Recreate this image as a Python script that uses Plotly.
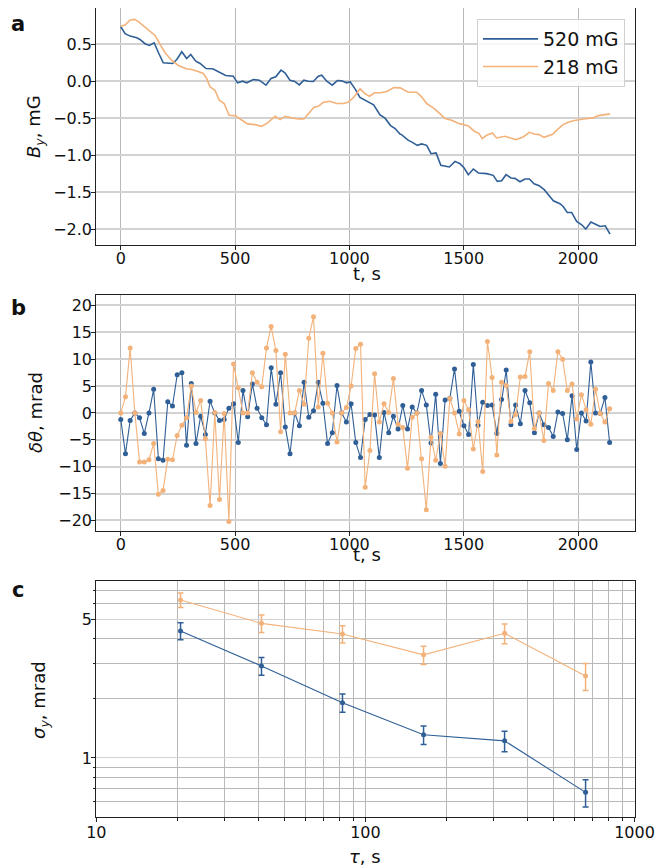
import numpy as np
import plotly.graph_objects as go

W, H = 672, 868
OFF = 8  # the page body margin shifts the figure by this many pixels

# ---------------- data: panel a ----------------
t_a_520 = [0, 19, 41, 70, 84, 106, 125, 146, 165, 186, 227, 245, 267, 288, 306, 328, 347, 373, 402, 431,
           459, 492, 511, 533, 551, 580, 606, 635, 657, 678, 701, 718, 740, 759, 781, 801, 820, 842, 864, 879,
           901, 925, 947, 966, 988, 1003, 1024, 1046, 1072, 1106, 1134, 1156, 1180, 1200, 1221, 1228, 1258,
           1272, 1297, 1316, 1338, 1357, 1379, 1400, 1437, 1462, 1484, 1502, 1520, 1542, 1564, 1600, 1629,
           1647, 1666, 1685, 1707, 1724, 1746, 1768, 1787, 1808, 1830, 1852, 1874, 1892, 1921, 1935, 1953,
           1972, 1994, 2016, 2034, 2056, 2081, 2096, 2119, 2140]
b_a_520 = [0.737, 0.642, 0.61, 0.588, 0.565, 0.507, 0.484, 0.52, 0.385, 0.249, 0.24, 0.294, 0.398, 0.307,
           0.362, 0.271, 0.24, 0.172, 0.168, 0.122, 0.077, 0.068, -0.022, 0.0, -0.022, 0.023, 0.014, -0.054,
           0.037, 0.06, 0.149, 0.114, 0.014, 0.0, -0.049, 0.014, 0.0, -0.004, 0.068, 0.081, 0.0, -0.054, 0.009,
           0.005, -0.022, -0.008, -0.10, -0.22, -0.265, -0.32, -0.455, -0.50, -0.60, -0.64, -0.715, -0.722,
           -0.80, -0.82, -0.867, -0.848, -0.867, -0.98, -0.97, -1.138, -1.16, -1.084, -1.115, -1.174, -1.264,
           -1.187, -1.241, -1.25, -1.273, -1.355, -1.345, -1.264, -1.309, -1.314, -1.359, -1.323, -1.323,
           -1.386, -1.413, -1.467, -1.549, -1.617, -1.657, -1.694, -1.775, -1.775, -1.897, -1.942, -2.0,
           -1.905, -1.942, -1.965, -1.955, -2.068]

t_a_218 = [0, 19, 41, 60, 77, 106, 135, 150, 172, 194, 223, 252, 286, 310, 335, 361, 376, 390, 412, 431, 452,
           474, 500, 522, 554, 587, 616, 645, 675, 697, 718, 748, 777, 801, 825, 845, 864, 886, 915, 944, 973,
           995, 1020, 1047, 1068, 1088, 1110, 1138, 1166, 1194, 1222, 1258, 1294, 1316, 1338, 1367, 1396, 1418,
           1447, 1476, 1500, 1520, 1545, 1567, 1581, 1600, 1625, 1644, 1680, 1702, 1728, 1760, 1787, 1808,
           1830, 1851, 1870, 1889, 1913, 1935, 1957, 1979, 2023, 2066, 2088, 2110, 2140]
b_a_218 = [0.745, 0.759, 0.827, 0.836, 0.805, 0.732, 0.669, 0.619, 0.497, 0.385, 0.28, 0.213, 0.168, 0.159,
           0.136, 0.104, 0.037, -0.076, -0.122, -0.257, -0.302, -0.46, -0.465, -0.51, -0.577, -0.587, -0.61,
           -0.556, -0.474, -0.519, -0.474, -0.496, -0.51, -0.51, -0.428, -0.352, -0.339, -0.285, -0.271,
           -0.302, -0.302, -0.285, -0.214, -0.103, -0.169, -0.203, -0.157, -0.157, -0.135, -0.087, -0.09,
           -0.149, -0.149, -0.212, -0.302, -0.36, -0.438, -0.505, -0.528, -0.568, -0.587, -0.605, -0.673,
           -0.709, -0.776, -0.731, -0.70, -0.767, -0.745, -0.767, -0.79, -0.754, -0.691, -0.713, -0.722,
           -0.759, -0.736, -0.718, -0.645, -0.587, -0.556, -0.535, -0.51, -0.496, -0.465, -0.451, -0.442]

# ---------------- data: panel b ----------------
dt_b = 20.56
t_b = [round(i * dt_b, 1) for i in range(105)]
d_520 = [-1.2, -7.6, -1.4, 0, -0.9, -3.8, 0, 4.4, -8.5, -8.8, 2.1, 1.3, 7.1, 7.5, -6.0, 5.5, -5.7, -0.6, -4.0,
         2.2, 0, -1.4, -1.2, 0.9, 1.7, -5.5, 4.2, -0.7, 5.4, 0.9, -0.9, -2.2, 8.4, 1.6, 7.5, -2.6, -7.6, 0,
         -2.4, 5.7, -0.8, 0.4, 5.7, 1.8, -5.7, -3.7, 5.1, 0, -1.7, 1.7, -5.5, -8.3, -1.2, -0.3, -0.4, -8.3,
         0.1, -3.7, -0.6, -3.0, 1.4, -3.0, 1.1, 0, 4.2, 1.5, -5.6, 3.5, -9.4, 2.4, 2.7, 8.2, 0.3, -2.4, -4.0,
         9.0, -2.3, 2.0, 1.4, 1.5, -3.8, 2.5, 8.0, -2.2, 1.5, -2.0, 4.2, 1.9, -3.7, 0, -2.2, -2.7, -4.4, 0.2,
         -0.1, -5.0, 3.2, -6.8, 0, -1.5, 9.5, 0, -0.1, 2.9, -5.5]
d_218 = [0, 3.0, 12.1, 0, -9.1, -9.1, -8.7, -5.7, -15.1, -14.4, -8.6, -8.7, -4.2, -2.3, -0.9, 5.0, 0.1, 2.3,
         -4.8, -17.2, 0.1, -16.1, -0.1, -20.2, 9.1, 4.7, 0, 0, 7.5, 5.7, 4.9, 12.1, 16.1, 11.6, -3.5, 10.9, 0,
         0, 4.2, 1.6, 13.9, 17.9, 1.1, 11.1, 1.8, 0, -5.4, 0, 1.0, 5.0, 12.0, 12.8, -13.8, -7.0, 7.3, -1.7,
         1.7, 0.1, 6.4, -2.1, -2.7, -10.3, -0.8, 0, -8.5, -18.0, -4.5, -8.8, -3.8, -9.9, 2.7, 0, -3.9, 2.3,
         0.6, -6.7, -1.6, -10.9, 13.3, 6.6, -7.8, 5.7, 5.1, -1.6, -0.3, 6.7, 6.8, 11.4, -2.9, 0, -5.1, 5.5,
         4.2, 11.4, 10.0, 4.2, 5.4, -1.1, 3.4, 0.6, -2.1, 4.4, -0.1, -1.7, 0.8]

# ---------------- data: panel c ----------------
tau = [20.56, 41.1, 82.2, 164.5, 329.0, 658.0]
sig_520 = [4.37, 2.91, 1.90, 1.31, 1.22, 0.671]
err_520 = [0.43, 0.30, 0.20, 0.14, 0.145, 0.105]
sig_218 = [6.26, 4.77, 4.22, 3.31, 4.25, 2.59]
err_218 = [0.52, 0.48, 0.42, 0.35, 0.49, 0.40]

labels = ["520 mG", "218 mG"]
ticks_t = [0, 500, 1000, 1500, 2000]

# ---------------- style ----------------
BLUE = "#2f5f96"
ORANGE = "#f3b27a"
FONT = "DejaVu Sans"
GRID_X = "#b8b8b8"
GRID_Y = "#d2d2d2"


def px_x(p):
    return (p - OFF) / W


def px_y(p):
    return 1 - (p - OFF) / H


XD = [px_x(96.3), px_x(634.5)]
DOM_A = [px_y(245), px_y(8)]
DOM_B = [px_y(530.7), px_y(294.7)]
DOM_C = [px_y(817), px_y(581)]

fig = go.Figure()

# panel a
fig.add_trace(go.Scatter(x=t_a_520, y=b_a_520, mode="lines", name=labels[0],
                         line=dict(color=BLUE, width=1.6), xaxis="x", yaxis="y"))
fig.add_trace(go.Scatter(x=t_a_218, y=b_a_218, mode="lines", name=labels[1],
                         line=dict(color=ORANGE, width=1.6), xaxis="x", yaxis="y"))

# panel b
fig.add_trace(go.Scatter(x=t_b, y=d_520, mode="lines+markers", showlegend=False,
                         line=dict(color=BLUE, width=1.1), marker=dict(color=BLUE, size=5),
                         xaxis="x2", yaxis="y2"))
fig.add_trace(go.Scatter(x=t_b, y=d_218, mode="lines+markers", showlegend=False,
                         line=dict(color=ORANGE, width=1.1), marker=dict(color=ORANGE, size=5),
                         xaxis="x2", yaxis="y2"))

# panel c
fig.add_trace(go.Scatter(x=tau, y=sig_520, mode="lines+markers", showlegend=False,
                         line=dict(color=BLUE, width=1.1), marker=dict(color=BLUE, size=5),
                         error_y=dict(type="data", array=err_520, color=BLUE, thickness=1.5, width=3),
                         xaxis="x3", yaxis="y3"))
fig.add_trace(go.Scatter(x=tau, y=sig_218, mode="lines+markers", showlegend=False,
                         line=dict(color=ORANGE, width=1.1), marker=dict(color=ORANGE, size=5),
                         error_y=dict(type="data", array=err_218, color=ORANGE, thickness=1.5, width=3),
                         xaxis="x3", yaxis="y3"))

common = dict(showline=True, linecolor="#222222", linewidth=1.2, mirror=True, ticks="outside",
              ticklen=4, tickwidth=1, tickcolor="#222222", zeroline=False, automargin=False,
              tickfont=dict(family=FONT, size=16, color="#111111"))
xcommon = dict(common, ticklabelstandoff=-5)
ycommon = dict(common, ticklabelstandoff=-4)

fig.update_layout(
    template="none",
    width=W, height=H, margin=dict(l=0, r=0, t=0, b=0, pad=0, autoexpand=False),
    paper_bgcolor="white", plot_bgcolor="white",
    font=dict(family=FONT, color="#111111"),
    xaxis=dict(domain=XD, anchor="y", range=[-107, 2247], tickvals=ticks_t,
               showgrid=True, gridcolor=GRID_X, gridwidth=1.2, **xcommon),
    yaxis=dict(domain=DOM_A, anchor="x", range=[-2.215, 0.99], dtick=0.5, tick0=0, tickformat=".1f",
               showgrid=True, gridcolor=GRID_Y, gridwidth=1.6, **ycommon),
    xaxis2=dict(domain=XD, anchor="y2", range=[-107, 2247], tickvals=ticks_t,
                showgrid=True, gridcolor=GRID_X, gridwidth=1.2, **xcommon),
    yaxis2=dict(domain=DOM_B, anchor="x2", range=[-21.9, 22.0], dtick=5, tick0=0,
                showgrid=True, gridcolor=GRID_Y, gridwidth=1.6, **ycommon),
    xaxis3=dict(domain=XD, anchor="y3", type="log", range=[1, 3], tickvals=[10, 100, 1000],
                ticktext=["10", "100", "1000"], showgrid=True, gridcolor=GRID_X, gridwidth=1.2,
                minor=dict(tickvals=[20, 30, 40, 50, 60, 70, 80, 90, 200, 300, 400, 500, 600, 700, 800, 900],
                           showgrid=True, gridcolor=GRID_X, gridwidth=1, ticks="outside", ticklen=2.5,
                           tickcolor="#222222"),
                **dict(common, ticklabelstandoff=-3)),
    yaxis3=dict(domain=DOM_C, anchor="x3", type="log", range=[np.log10(0.504), np.log10(7.8)],
                tickvals=[1, 5], ticktext=["1", "5"], showgrid=True, gridcolor=GRID_Y, gridwidth=1.4,
                minor=dict(tickvals=[0.6, 0.7, 0.8, 0.9, 2, 3, 4, 6, 7], showgrid=True,
                           gridcolor=GRID_X, gridwidth=1, ticks="outside", ticklen=2.5, tickcolor="#222222"),
                **ycommon),
    legend=dict(x=px_x(625), y=px_y(19), xanchor="right", yanchor="top",
                bgcolor="rgba(255,255,255,0.85)", bordercolor="#d0d0d0", borderwidth=1,
                font=dict(family=FONT, size=19, color="#111111"), tracegroupgap=4,
                itemwidth=55),
)

ann = []
for lab, py in [("a", 24), ("b", 308), ("c", 590)]:
    ann.append(dict(text="<b>%s</b>" % lab, x=px_x(18), y=px_y(py), xref="paper", yref="paper",
                    xanchor="center", yanchor="middle",
                    showarrow=False, font=dict(family=FONT, size=21, color="#111111")))
# axis titles
for txt, xx, yy, ang in [("t, s", 367, 274, 0), ("t, s", 367, 554, 0), ("<i>τ</i>, s", 365, 856, 0),
                         ("<i>B</i><sub><i>y</i></sub>, mG", 35, 127, -90),
                         ("<i>δθ</i>, mrad", 35, 413, -90),
                         ("<i>σ</i><sub><i>y</i></sub>, mrad", 40, 700, -90)]:
    ann.append(dict(text=txt, x=px_x(xx), y=px_y(yy), xref="paper", yref="paper", showarrow=False,
                    xanchor="center", yanchor="middle", textangle=ang,
                    font=dict(family=FONT, size=18, color="#111111")))
fig.update_layout(annotations=ann)

fig.write_html("out.html")
